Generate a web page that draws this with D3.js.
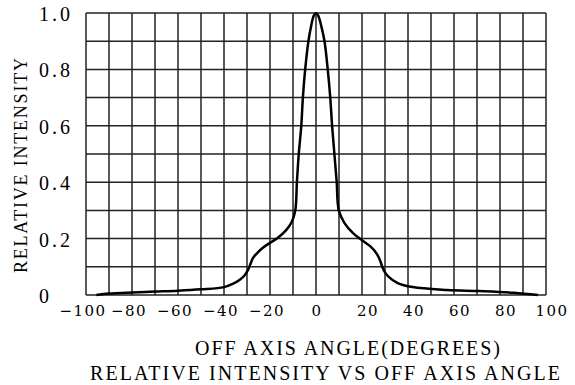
<!DOCTYPE html>
<html>
<head>
<meta charset="utf-8">
<script src="https://cdn.jsdelivr.net/npm/d3@7"></script>
<style>
  body { margin: 0; background: #fff; }
  text { font-family: "Liberation Serif", serif; fill: #000; }
</style>
</head>
<body>
<div id="chart"></div>
<script>
// data: angle (deg) / relative intensity
var angles = [-95.5, -90, -80, -70, -60, -50, -40, -36, -33, -31, -29.5, -28.5, -27.5, -26, -23.5, -20, -17, -13, -10.5, -9, -8.3, -7.5, -6.4, -5.7, -4.7, -3.3, -2.2, -1, 0,
              1, 2.4, 3.7, 5.1, 6.2, 7.0, 8.0, 9.0, 9.9, 12.4, 16, 19, 24, 26.5, 28, 28.8, 30, 31.5, 35.5, 42, 57, 71, 86, 96.5];
var intensity = [0, 0.005, 0.009, 0.012, 0.015, 0.02, 0.028, 0.04, 0.055, 0.07, 0.09, 0.11, 0.13, 0.145, 0.165, 0.185, 0.2, 0.23, 0.26, 0.3, 0.4, 0.5, 0.6, 0.7, 0.8, 0.9, 0.95, 0.99, 1.0,
                 0.99, 0.95, 0.9, 0.8, 0.7, 0.6, 0.5, 0.4, 0.3, 0.255, 0.22, 0.2, 0.17, 0.145, 0.12, 0.1, 0.08, 0.065, 0.042, 0.028, 0.018, 0.014, 0.008, 0];

var xTicks = [-100, -80, -60, -40, -20, 0, 20, 40, 60, 80, 100];
var yTicks = [0, 0.2, 0.4, 0.6, 0.8, 1.0];
var yTickLabels = ["0", "0.2", "0.4", "0.6", "0.8", "1.0"];
var xGrid = d3.range(-100, 101, 10);
var yGrid = d3.range(0, 11).map(function(d) { return d / 10; });

var xTitle = "OFF AXIS ANGLE(DEGREES)";
var yTitle = "RELATIVE INTENSITY";
var caption = "RELATIVE INTENSITY VS OFF AXIS ANGLE";

/////////////////////
// Setup
/////////////////////

var width = 575, height = 385;
var margin = {left: 86, right: 29, top: 13, bottom: 90};

var svg = d3.select("#chart").append("svg")
    .attr("width", width)
    .attr("height", height);

var x = d3.scaleLinear()
    .domain([-100, 100])
    .range([margin.left, width - margin.right]);
var y = d3.scaleLinear()
    .domain([0, 1])
    .range([height - margin.bottom, margin.top]);

// Grid

svg.append("g").selectAll("line")
    .data(xGrid)
  .enter().append("line")
    .attr("x1", function(d) { return x(d); })
    .attr("x2", function(d) { return x(d); })
    .attr("y1", y(0))
    .attr("y2", y(1))
    .attr("stroke", "#222")
    .attr("stroke-width", 1.5);

svg.append("g").selectAll("line")
    .data(yGrid)
  .enter().append("line")
    .attr("x1", x(-100))
    .attr("x2", x(100))
    .attr("y1", function(d) { return y(d); })
    .attr("y2", function(d) { return y(d); })
    .attr("stroke", "#222")
    .attr("stroke-width", 1.5);

// Curve

var pts = angles.map(function(a, i) { return [a, intensity[i]]; });

var line = d3.line()
    .x(function(d) { return x(d[0]); })
    .y(function(d) { return y(d[1]); })
    .curve(d3.curveCatmullRom.alpha(0.5));

svg.append("path")
    .datum(pts)
    .attr("d", line)
    .attr("fill", "none")
    .attr("stroke", "#000")
    .attr("stroke-width", 2.5)
    .attr("stroke-linejoin", "round");

// Tick labels

svg.append("g").selectAll("text")
    .data(xTicks)
  .enter().append("text")
    .attr("x", function(d) { return x(d) + (d < 0 ? -3 : d > 0 ? 6 : 1); })
    .attr("y", 316)
    .attr("text-anchor", "middle")
    .style("font-family", "'DejaVu Serif', serif")
    .style("font-size", "15px")
    .style("letter-spacing", "1.5px")
    .text(function(d) { return d < 0 ? "\u2212" + Math.abs(d) : d; });

svg.append("g").selectAll("text")
    .data(yTicks)
  .enter().append("text")
    .attr("x", 39)
    .attr("y", function(d) { return y(d) + 8; })
    .style("font-size", "20px")
    .style("letter-spacing", "3px")
    .text(function(d, i) { return yTickLabels[i]; });

// Titles

svg.append("text")
    .attr("x", 195)
    .attr("y", 355)
    .attr("textLength", 305)
    .attr("lengthAdjust", "spacing")
    .style("font-size", "20px")
    .text(xTitle);

svg.append("text")
    .attr("x", 90)
    .attr("y", 380)
    .attr("textLength", 470)
    .attr("lengthAdjust", "spacing")
    .style("font-size", "20px")
    .text(caption);

svg.append("text")
    .attr("transform", "translate(27,273) rotate(-90)")
    .attr("textLength", 215)
    .attr("lengthAdjust", "spacing")
    .style("font-size", "18px")
    .text(yTitle);
</script>
</body>
</html>
